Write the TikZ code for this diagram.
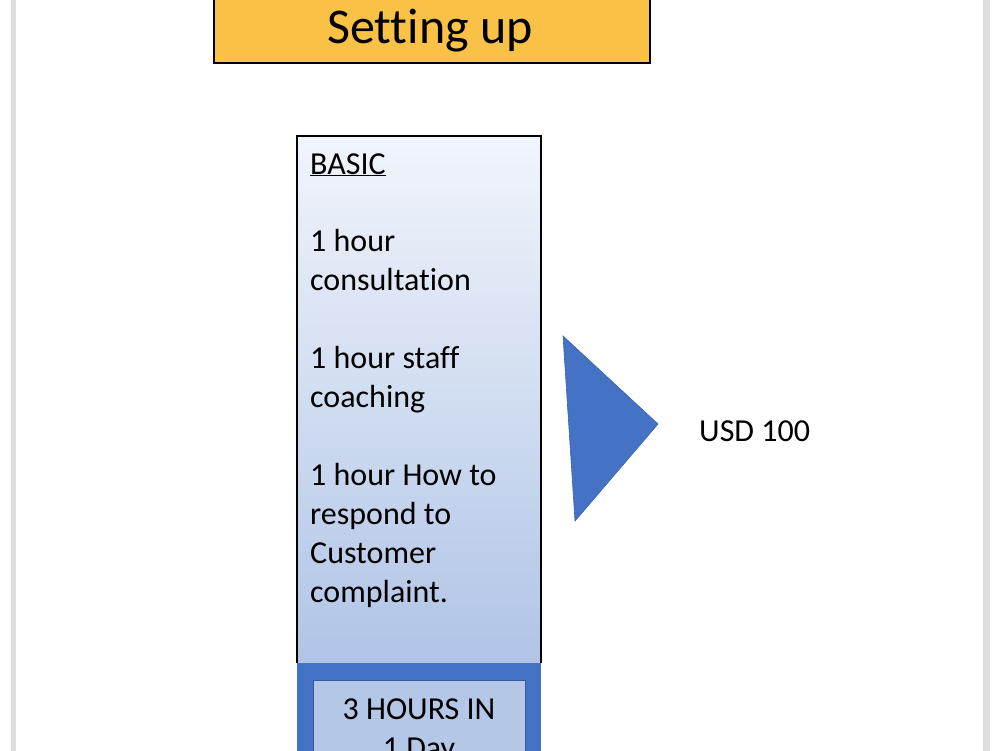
\documentclass[tikz,border=0pt]{standalone}
\usepackage{fontspec}
\setmainfont[Ligatures=NoCommon]{Carlito}
\definecolor{gold}{RGB}{249,193,69}
\definecolor{obl}{RGB}{68,114,196}
\definecolor{lbl}{RGB}{180,199,231}
\definecolor{topbl}{RGB}{241,245,251}
\definecolor{botbl}{RGB}{176,196,230}
\definecolor{edge}{RGB}{222,222,222}
\begin{document}
\begin{tikzpicture}[x=1pt,y=-1pt,
  body/.style={anchor=base west,inner sep=0pt,font=\fontsize{32}{39}\selectfont},
  cbody/.style={anchor=base,inner sep=0pt,font=\fontsize{32}{39}\selectfont}]
\useasboundingbox (0,0) rectangle (1000,750);
\fill[white] (0,0) rectangle (1000,750);
% page edges
\fill[edge] (11,-5) rectangle (16,760);
\fill[edge] (983,-5) rectangle (990,760);
% title
\node[draw=black,line width=1.8pt,fill=gold,minimum width=436pt,minimum height=84pt,anchor=south west,inner sep=0pt] (title) at (213,64) {};
\node[anchor=base,inner sep=0pt,font=\fontsize{50}{60}\selectfont] (ttext) at (430,43) {Setting up};
% main box
\shade[top color=topbl,bottom color=botbl] (297,136) rectangle (541,663);
\fill[obl] (297,663) rectangle (541,760);
\draw[black,line width=1.3pt] (297,663) -- (297,136) -- (541,136) -- (541,663);
\node[draw=obl!80!black,line width=1pt,fill=lbl,minimum width=212pt,minimum height=90pt,anchor=north west,inner sep=0pt] (inner) at (313,680) {};
\node[cbody] (h1) at (419,719) {3 HOURS IN};
\node[cbody] (h2) at (419,758) {1 Day};
% texts
\node[body] (b0) at (310,174) {\underline{BASIC}};
\node[body] (b1) at (310,251) {1 hour};
\node[body] (b2) at (310,290) {consultation};
\node[body] (b3) at (310,368) {1 hour staff};
\node[body] (b4) at (310,407) {coaching};
\node[body] (b5) at (310,485) {1 hour How to};
\node[body] (b6) at (310,524) {respond to};
\node[body] (b7) at (310,563) {Customer};
\node[body] (b8) at (310,602) {complaint.};
% triangle
\coordinate (t1) at (563,336);
\coordinate (t2) at (658,424);
\coordinate (t3) at (575,521);
\filldraw[fill=obl,draw=obl!85!black,line width=0.6pt] (t1) -- (t2) -- (t3) -- cycle;
\node[body] (usd) at (699,441) {USD 100};
\end{tikzpicture}
\end{document}
